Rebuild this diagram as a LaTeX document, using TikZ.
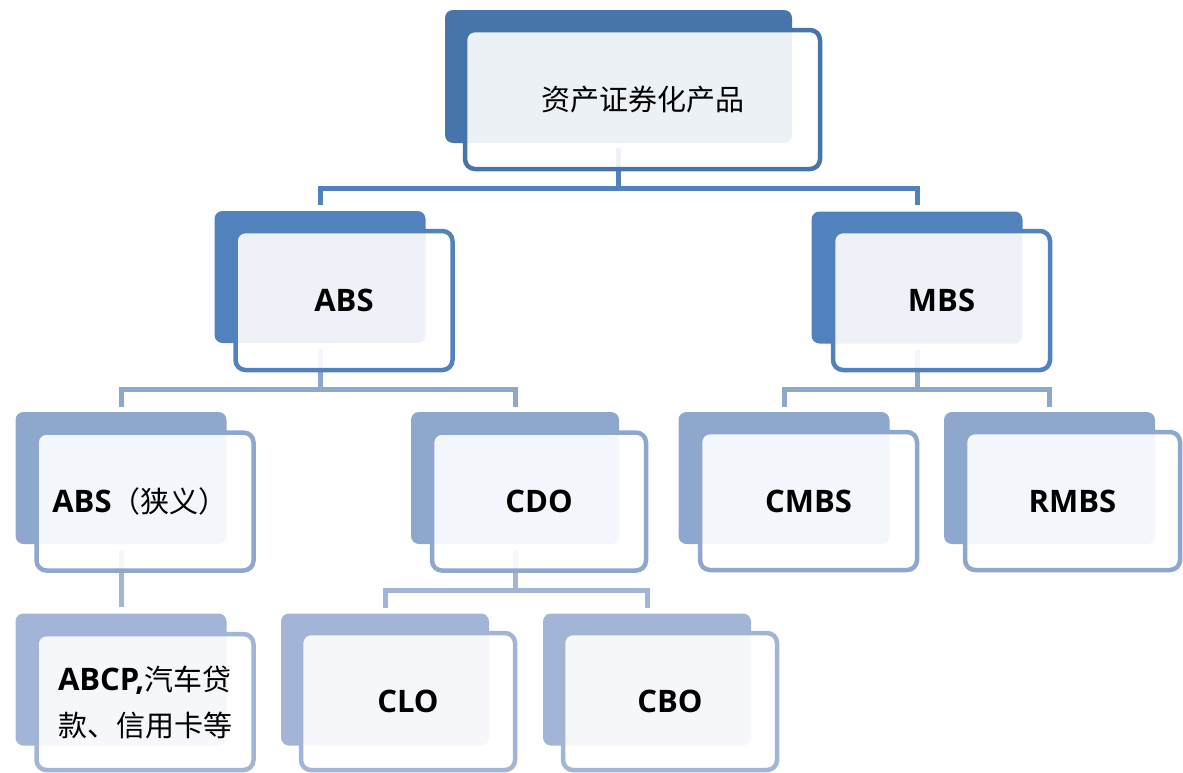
\documentclass[tikz,border=0pt]{standalone}
\usepackage{fontspec}
\setmainfont{Open Sans}
\newfontfamily\cjk{Noto Sans CJK SC}
\newcommand{\lat}[1]{{\fontsize{31}{46}\selectfont\bfseries #1}}
\definecolor{c0}{HTML}{4774AA}
\definecolor{c1}{HTML}{5282BE}
\definecolor{c2}{HTML}{8DA7CD}
\definecolor{c3}{HTML}{A2B5D6}
\tikzset{
  backbox/.style={rectangle, rounded corners=8pt, inner sep=0pt, draw=none},
  frontbox/.style={rectangle, rounded corners=10pt, inner sep=0pt, line width=4.5pt,
    fill=white, fill opacity=0.9, text opacity=1, draw opacity=1,
    font=\fontsize{29}{46}\selectfont},
  bsmall/.style={backbox, minimum width=211pt, minimum height=132pt},
  fsmall/.style={frontbox, minimum width=217pt, minimum height=138pt},
  conn/.style={line width=5pt},
}
\begin{document}
\begin{tikzpicture}[x=1pt, y=-1pt]
\useasboundingbox (0,0) rectangle (1183,772);
% back boxes
\node[backbox, fill=c0, minimum width=347pt, minimum height=133pt] (topB) at (618.5,76.5) {};
\node[bsmall, fill=c1] (ABSB) at (320,277) {};
\node[bsmall, fill=c1] (MBSB) at (917,277.5) {};
\node[bsmall, fill=c2] (ABSnB) at (121,478) {};
\node[bsmall, fill=c2, minimum width=208pt] (CDOB) at (515,478) {};
\node[bsmall, fill=c2] (CMBSB) at (784,478) {};
\node[bsmall, fill=c2] (RMBSB) at (1049.5,478) {};
\node[bsmall, fill=c3] (ABCPB) at (121,679.5) {};
\node[bsmall, fill=c3, minimum width=208pt] (CLOB) at (385,679.5) {};
\node[bsmall, fill=c3, minimum width=208pt] (CBOB) at (647,679.5) {};
% connectors
\coordinate (j0) at (topB.south |- 0,188);
\coordinate (j1) at (ABSB.south |- 0,389);
\coordinate (j2) at (MBSB.south |- 0,389);
\coordinate (j3) at (CDOB.south |- 0,590);
\draw[conn, c1] ([yshift=-5pt]topB.south) -- (j0);
\draw[conn, c1] ([yshift=6pt]ABSB.north) |- (j0) -| ([yshift=6pt]MBSB.north);
\draw[conn, c2] ([yshift=-6pt]ABSB.south) -- (j1);
\draw[conn, c2] ([yshift=5pt]ABSnB.north) |- (j1) -| ([yshift=5pt]CDOB.north);
\draw[conn, c2] ([yshift=-6pt]MBSB.south) -- (j2);
\draw[conn, c2] ([yshift=5pt]CMBSB.north) |- (j2) -| ([yshift=5pt]RMBSB.north);
\draw[conn, c3] ([yshift=-6pt]CDOB.south) -- (j3);
\draw[conn, c3] ([yshift=5pt]CLOB.north) |- (j3) -| ([yshift=5pt]CBOB.north);
\draw[conn, c3] ([yshift=-6pt]ABSnB.south) -- ([yshift=6pt]ABCPB.north);
% front boxes
\node[frontbox, draw=c0, minimum width=355pt, minimum height=139pt] (top) at (642.5,99.5) {\cjk 资产证券化产品};
\node[fsmall, draw=c1, minimum height=139pt] (ABS) at (344,300.5) {\lat{ABS}};
\node[fsmall, draw=c1, minimum height=139pt] (MBS) at (941.5,300.5) {\lat{MBS}};
\node[fsmall, draw=c2] (ABSn) at (145,501.5) {\hspace*{-10pt}\lat{ABS}{\cjk （狭义）}};
\node[fsmall, draw=c2, minimum width=214pt] (CDO) at (539,501.5) {\lat{CDO}};
\node[fsmall, draw=c2] (CMBS) at (808.5,501) {\lat{CMBS}};
\node[fsmall, draw=c2, minimum width=215pt] (RMBS) at (1072.5,501) {\lat{RMBS}};
\node[fsmall, draw=c3, minimum height=136pt, align=left] (ABCP) at (145,702) {\lat{ABCP,}{\cjk 汽车贷}\\{\cjk 款、信用卡等}};
\node[fsmall, draw=c3, minimum width=214pt, minimum height=137pt] (CLO) at (408,701.5) {\lat{CLO}};
\node[fsmall, draw=c3, minimum width=214pt, minimum height=137pt] (CBO) at (670,701.5) {\lat{CBO}};
\end{tikzpicture}
\end{document}
